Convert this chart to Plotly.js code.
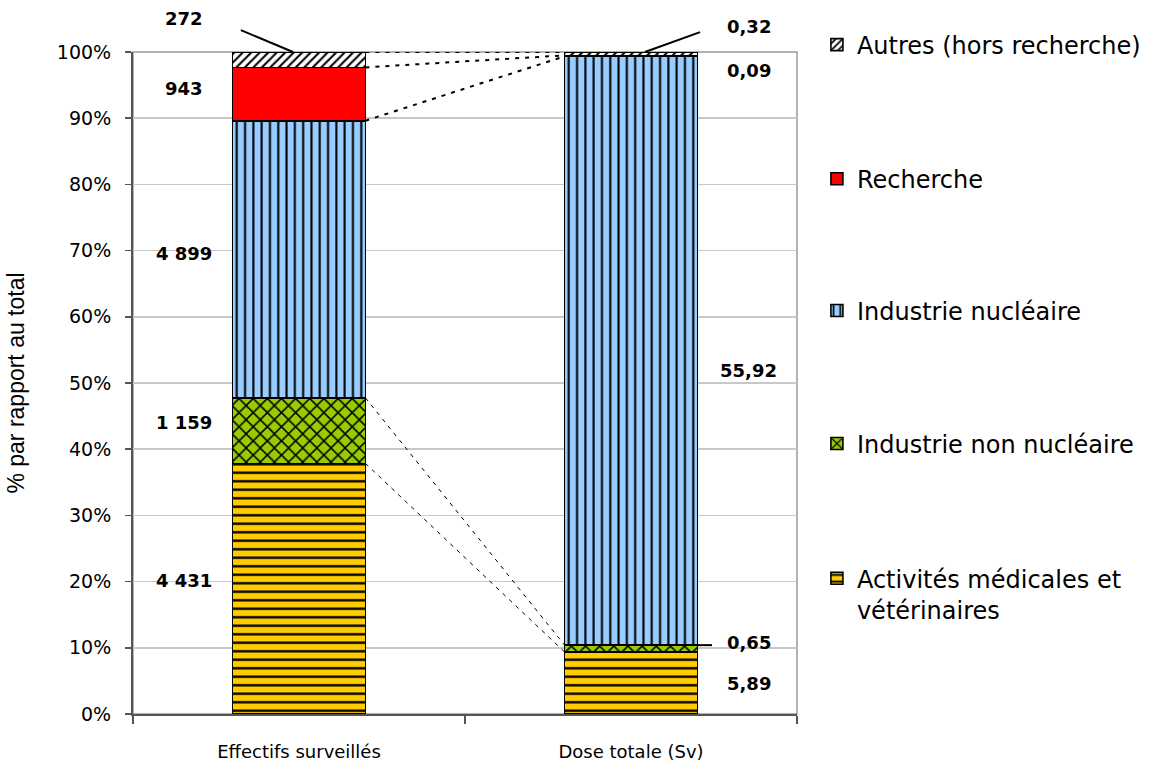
<!DOCTYPE html>
<html>
<head>
<meta charset="utf-8">
<script src="https://cdn.plot.ly/plotly-3.0.1.min.js"></script>
<style>html,body{margin:0;padding:0;background:#fff;}#chart{width:1159px;height:767px;}</style>
</head>
<body>
<div id="chart"></div>
<script>
// ---- Data ----
const categories = ["Effectifs surveillés", "Dose totale (Sv)"];
const seriesNames = ["Activités médicales et<br>vétérinaires", "Industrie non nucléaire", "Industrie nucléaire", "Recherche", "Autres (hors recherche)"];
const effectifs = [4431, 1159, 4899, 943, 272];
const doses = [5.89, 0.65, 55.92, 0.09, 0.32];
const effectifsLabels = ["4 431", "1 159", "4 899", "943", "272"];
const dosesLabels = ["5,89", "0,65", "55,92", "0,09", "0,32"];

// ---- Styles ----
const styles = [
  {bg: "#FFCC00", shape: "-", size: 8.5, sol: 0.28},
  {bg: "#99CC00", shape: "x", size: 10, sol: 0.28},
  {bg: "#99CCFF", shape: "|", size: 8.3, sol: 0.25},
  {bg: "#FF0000", shape: "", size: 8, sol: 0.3},
  {bg: "#FFFFFF", shape: "/", size: 6, sol: 0.35}
];
const legendIds = ["legend5", "legend4", "legend3", "legend2", "legend"];
const legendY = [0.181, 0.408, 0.609, 0.808, 1.0106];

const font = "DejaVu Sans, Verdana, sans-serif";

const traces = seriesNames.map((name, i) => {
  const st = styles[i];
  const marker = {color: st.bg, line: {color: "#000", width: 1.6}};
  if (st.shape) marker.pattern = {shape: st.shape, bgcolor: st.bg, fgcolor: "#000", size: st.size, solidity: st.sol};
  return {
    type: "bar", name: name, x: categories, y: [effectifs[i], doses[i]],
    marker: marker, width: 0.4, legend: legendIds[i], hoverinfo: "skip"
  };
});

function cumPct(arr) {
  const tot = arr.reduce((a, b) => a + b, 0);
  let c = 0;
  return arr.map(v => { const lo = c; c += v; return {lo: lo / tot * 100, hi: c / tot * 100}; });
}
const cL = cumPct(effectifs);
const cR = cumPct(doses);

const labFont = {family: font, size: 18, color: "#000", weight: "bold"};
const annotations = [];
const leftYShift = [8, 8, 6, 6, 34];
effectifsLabels.forEach((t, i) => {
  const y = i === 4 ? cL[i].hi : (cL[i].lo + cL[i].hi) / 2;
  annotations.push({x: -0.345, y: y, xref: "x", yref: "y", text: "<b>" + t + "</b>", showarrow: false, font: labFont, yshift: leftYShift[i]});
});
const rightY = [(cR[0].lo + cR[0].hi) / 2, cR[1].hi, (cR[2].lo + cR[2].hi) / 2, cR[4].hi, cR[4].hi];
const rightYShift = [-1, 3, -20, -18, 26];
dosesLabels.forEach((t, i) => {
  annotations.push({x: 1.355, y: rightY[i], xref: "x", yref: "y", text: "<b>" + t + "</b>", showarrow: false, font: labFont, yshift: rightYShift[i]});
});

const shapes = [];
shapes.push({type: "rect", xref: "paper", yref: "paper", x0: 0, x1: 1, y0: 0, y1: 1, line: {color: "#999", width: 1.5}, layer: "below"});
for (let i = 0; i < 5; i++) {
  const upper = i >= 2;
  shapes.push({type: "line", xref: "x", yref: "y", x0: 0.2, x1: 0.8, y0: cL[i].hi, y1: cR[i].hi,
    line: {color: "#000", width: upper ? 2 : 1, dash: upper ? "4px,6px" : "4px,5px"}});
}
shapes.push({type: "line", xref: "x", yref: "paper", x0: -0.175, y0: cL[4].hi / 100 + 0.033, x1: -0.018, y1: cL[4].hi / 100, line: {color: "#000", width: 2}});
shapes.push({type: "line", xref: "x", yref: "paper", x0: 1.208, y0: cR[4].hi / 100 + 0.030, x1: 1.042, y1: cR[4].hi / 100, line: {color: "#000", width: 2}});
shapes.push({type: "line", xref: "x", yref: "paper", x0: 1.199, y0: cR[1].hi / 100, x1: 1.244, y1: cR[1].hi / 100, line: {color: "#000", width: 2}});

const layout = {
  width: 1159, height: 767,
  margin: {l: 133, r: 362, t: 52, b: 53},
  paper_bgcolor: "#fff", plot_bgcolor: "#fff",
  barmode: "stack", barnorm: "percent",
  showlegend: true,
  font: {family: font, color: "#000"},
  xaxis: {
    type: "category", range: [-0.5, 1.5], tickson: "boundaries",
    ticks: "outside", ticklen: 8, tickcolor: "#555", tickwidth: 1.5,
    showline: true, linecolor: "#555", linewidth: 2,
    tickfont: {family: font, size: 18, color: "#000"}, ticklabelstandoff: 20,
    showgrid: false, fixedrange: true
  },
  yaxis: {
    range: [0, 100], dtick: 10, ticksuffix: "%",
    ticks: "outside", ticklen: 6, tickcolor: "#555", tickwidth: 1.5,
    showline: true, linecolor: "#555", linewidth: 2,
    showgrid: true, gridcolor: "#C8C8C8", gridwidth: 1.5,
    tickfont: {family: font, size: 19, color: "#000"}, ticklabelstandoff: 10,
    title: {text: "% par rapport au total", font: {family: "Liberation Sans, Arial, sans-serif", size: 23, color: "#000"}, standoff: 26},
    zeroline: false, fixedrange: true
  },
  annotations: annotations,
  shapes: shapes
};
legendIds.forEach((id, i) => {
  const multi = i === 0;
  layout[id] = {
    x: 1.03, xanchor: "left", y: legendY[i], yanchor: "middle",
    valign: multi ? "top" : "middle",
    font: {family: font, size: 24, color: "#000"}, bgcolor: "rgba(0,0,0,0)"
  };
});

Plotly.newPlot("chart", traces, layout, {staticPlot: true, displayModeBar: false});
</script>
</body>
</html>
